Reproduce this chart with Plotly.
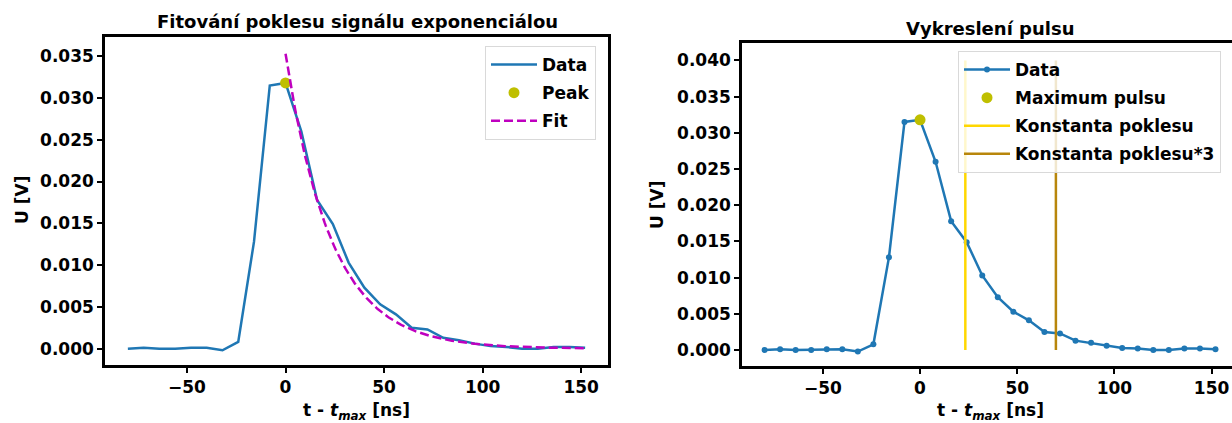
import numpy as np
import plotly.graph_objects as go

# Sampled pulse: time relative to the maximum [ns] and voltage [V]
t_ns = [-80, -72, -64, -56, -48, -40, -32, -24, -16, -8, 0, 8, 16, 24, 32,
        40, 48, 56, 64, 72, 80, 88, 96, 104, 112, 120, 128, 136, 144, 152]
u_volts = [0.0000, 0.0001, 0.0000, 0.0000, 0.0001, 0.0001, -0.0002, 0.0008,
           0.0128, 0.0315, 0.0318, 0.0260, 0.0178, 0.0149, 0.0103, 0.0073,
           0.0053, 0.0041, 0.0025, 0.0023, 0.0013, 0.0010, 0.0006, 0.0003,
           0.0002, 0.0000, 0.0000, 0.0002, 0.0002, 0.0001]

# Exponential decay fit parameters: U(t) = fit_amp * exp(-t / fit_tau)
fit_amp = 0.0353
fit_tau = 23.3
vline_top = 0.04

FONT = "DejaVu Sans"
BLUE = "#1f77b4"
PEAK = "#bfbf00"
MAGENTA = "#bf00bf"
GOLD = "#ffd700"
DARKGOLD = "#b8860b"

i_peak = int(np.argmax(u_volts))
t_peak, u_peak = t_ns[i_peak], u_volts[i_peak]

t_fit = np.linspace(0, t_ns[-1], 300)
u_fit = fit_amp * np.exp(-t_fit / fit_tau)

fig = go.Figure()

# --- left panel: data, peak and exponential fit
fig.add_trace(go.Scatter(x=t_ns, y=u_volts, mode="lines", name="Data",
                         line=dict(color=BLUE, width=2.5), legendgroup="a1",
                         xaxis="x", yaxis="y", legend="legend"))
fig.add_trace(go.Scatter(x=[t_peak], y=[u_peak], mode="markers", name="Peak",
                         marker=dict(color=PEAK, size=11), legendgroup="a2",
                         xaxis="x", yaxis="y", legend="legend"))
fig.add_trace(go.Scatter(x=t_fit, y=u_fit, mode="lines", name="Fit",
                         line=dict(color=MAGENTA, width=2.5, dash="9px,4px"),
                         legendgroup="a3",
                         xaxis="x", yaxis="y", legend="legend"))

# --- right panel: pulse with decay-constant markers
fig.add_trace(go.Scatter(x=t_ns, y=u_volts, mode="lines+markers", name="Data",
                         line=dict(color=BLUE, width=2.5),
                         marker=dict(color=BLUE, size=6), legendgroup="b1",
                         xaxis="x2", yaxis="y2", legend="legend2"))
fig.add_trace(go.Scatter(x=[t_peak], y=[u_peak], mode="markers",
                         name="Maximum pulsu", legendgroup="b2",
                         marker=dict(color=PEAK, size=11),
                         xaxis="x2", yaxis="y2", legend="legend2"))
fig.add_trace(go.Scatter(x=[fit_tau, fit_tau], y=[0, vline_top], mode="lines",
                         name="Konstanta poklesu", legendgroup="b3",
                         line=dict(color=GOLD, width=2.5),
                         xaxis="x2", yaxis="y2", legend="legend2"))
fig.add_trace(go.Scatter(x=[3 * fit_tau, 3 * fit_tau], y=[0, vline_top],
                         mode="lines", name="Konstanta poklesu*3",
                         legendgroup="b4",
                         line=dict(color=DARKGOLD, width=2.5),
                         xaxis="x2", yaxis="y2", legend="legend2"))

W, H = 1232, 423
tickfont = dict(family=FONT, size=17, color="black", weight="bold")

def xaxis_style(domain, rng, anchor):
    return dict(domain=domain, range=rng, anchor=anchor,
                tickvals=[-50, 0, 50, 100, 150], ticks="outside",
                ticklen=5, tickwidth=1.5, tickcolor="black",
                tickfont=tickfont, showline=True, linecolor="black",
                linewidth=2.5, mirror=True, showgrid=False, zeroline=False)

def yaxis_style(domain, rng, anchor, top, mirror):
    return dict(domain=domain, range=rng, anchor=anchor,
                tickvals=[round(0.005 * k, 3) for k in range(top + 1)],
                tickformat=".3f", ticks="outside", ticklen=5, tickwidth=1.5,
                tickcolor="black", tickfont=tickfont, showline=True,
                linecolor="black", linewidth=2.5, mirror=mirror,
                showgrid=False, zeroline=False)

legend_common = dict(font=dict(family=FONT, size=17, color="black",
                               weight="bold"),
                     bgcolor="rgba(255,255,255,0.8)",
                     bordercolor="#d9d9d9", borderwidth=1,
                     xanchor="left", yanchor="top", tracegroupgap=3,
                     itemwidth=46)

def bold(text, size=17):
    return dict(text=text, showarrow=False, xref="paper", yref="paper",
                font=dict(family=FONT, size=size, color="black",
                          weight="bold"))

annotations = [
    dict(**bold("Fitování poklesu signálu exponenciálou", 18),
         x=357 / W, y=1 - 22 / H, xanchor="center", yanchor="middle"),
    dict(**bold("Vykreslení pulsu", 18),
         x=990 / W, y=1 - 29 / H, xanchor="center", yanchor="middle"),
    dict(**bold("U [V]"), x=22 / W, y=1 - 200 / H, textangle=-90,
         xanchor="center", yanchor="middle"),
    dict(**bold("U [V]"), x=657 / W, y=1 - 205 / H, textangle=-90,
         xanchor="center", yanchor="middle"),
    dict(**bold("t - <i>t</i><sub><i>max</i></sub> [ns]"),
         x=356 / W, y=1 - 411 / H, xanchor="center", yanchor="middle"),
    dict(**bold("t - <i>t</i><sub><i>max</i></sub> [ns]"),
         x=990 / W, y=1 - 411 / H, xanchor="center", yanchor="middle"),
]

fig.update_layout(
    width=W, height=H,
    margin=dict(l=0, r=0, t=0, b=0),
    paper_bgcolor="white", plot_bgcolor="white",
    font=dict(family=FONT, color="black"),
    xaxis=xaxis_style([105 / W, 608 / W], [-91.6, 163.6], "y"),
    yaxis=yaxis_style([1 - 365 / H, 1 - 37 / H], [-0.00196, 0.0373], "x",
                      7, True),
    xaxis2=xaxis_style([742 / W, 1.0], [-91.6, 160.5], "y2"),
    yaxis2=yaxis_style([1 - 366 / H, 1 - 43 / H], [-0.0022, 0.0424], "x2",
                       8, False),
    legend=dict(**legend_common, x=485 / W, y=1 - 46 / H),
    legend2=dict(**legend_common, x=958 / W, y=1 - 51 / H),
    annotations=annotations,
    showlegend=True,
)

fig.write_html("out.html")
